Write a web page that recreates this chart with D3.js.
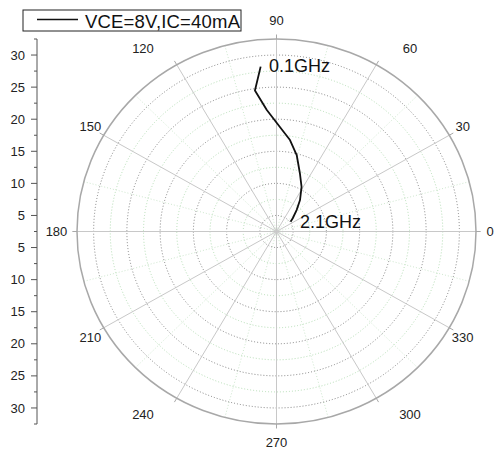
<!DOCTYPE html>
<html><head><meta charset="utf-8">
<script src="https://cdn.jsdelivr.net/npm/d3@7"></script>
<style>body{margin:0;background:#fff}svg{display:block}text{font-family:"Liberation Sans",Arial,sans-serif}</style>
</head><body>
<svg id="c" width="494" height="450"></svg>
<script>
// Data: radial magnitude and angle (degrees) from 0.1GHz to 2.1GHz
const magnitude = [28.3, 24.7, 21.5, 18.8, 16.9, 14.8, 12.2, 10.4, 8.55, 7.0, 5.7, 5.1];
const angleDeg  = [95.3, 98.4, 94.4, 88.2, 81.9, 75.7, 68.7, 61.5, 54.2, 47.8, 40.2, 35.6];
const radialTicks = [5, 10, 15, 20, 25, 30];
const angleTicks = [0, 30, 60, 90, 120, 150, 180, 210, 240, 270, 300, 330];
const seriesName = "VCE=8V,IC=40mA";
const startLabel = "0.1GHz", endLabel = "2.1GHz";

const svg = d3.select("#c");
const cx = 276.5, cy = 231.5, RX = 199.5, RY = 192.5;
const rDomain = [2.5, 32.5];
const rx = d3.scaleLinear().domain(rDomain).range([0, RX]);
const ry = d3.scaleLinear().domain(rDomain).range([0, RY]);
const rad = a => a * Math.PI / 180;
const px = (v, a) => cx + rx(v) * Math.cos(rad(a));
const py = (v, a) => cy - ry(v) * Math.sin(rad(a));

const g = svg.append("g");
// minor circles (green dotted)
const minorR = d3.range(7.5, 32.5, 5);
g.selectAll(".minc").data(minorR).join("ellipse")
  .attr("cx", cx).attr("cy", cy).attr("rx", d => rx(d)).attr("ry", d => ry(d))
  .attr("fill", "none").attr("stroke", "#b5deb5").attr("stroke-width", 1).attr("stroke-dasharray", "1,2");
// minor spokes
g.selectAll(".mins").data(d3.range(15, 360, 30)).join("line")
  .attr("x1", cx).attr("y1", cy).attr("x2", d => px(32.5, d)).attr("y2", d => py(32.5, d))
  .attr("stroke", "#cfe8cf").attr("stroke-width", 1).attr("stroke-dasharray", "1,2");
// major circles (dark dotted)
g.selectAll(".majc").data(radialTicks).join("ellipse")
  .attr("cx", cx).attr("cy", cy).attr("rx", d => rx(d)).attr("ry", d => ry(d))
  .attr("fill", "none").attr("stroke", "#666").attr("stroke-width", 0.8).attr("stroke-dasharray", "1,2");
// major spokes
g.selectAll(".majs").data(angleTicks).join("line")
  .attr("x1", cx).attr("y1", cy).attr("x2", d => px(32.5, d)).attr("y2", d => py(32.5, d))
  .attr("stroke", "#c8c8c8").attr("stroke-width", 1);
// outer circle
g.append("ellipse").attr("cx", cx).attr("cy", cy).attr("rx", RX).attr("ry", RY)
  .attr("fill", "none").attr("stroke", "#a8a8a8").attr("stroke-width", 1.5);
// outer ticks
g.selectAll(".ot").data(angleTicks).join("line")
  .attr("x1", d => px(32.5, d)).attr("y1", d => py(32.5, d))
  .attr("x2", d => px(33.2, d)).attr("y2", d => py(33.2, d))
  .attr("stroke", "#a8a8a8").attr("stroke-width", 1);

// angle labels
function labelPos(a) {
  const c = Math.cos(rad(a)), s = Math.sin(rad(a));
  let x = cx + 215 * c, y = cy - 211 * s;
  if (Math.abs(Math.abs(s) - 0.866) < 0.01) x += Math.sign(c) * 26;
  if (a === 0) x = cx + 213.5;
  if (a === 180) x = cx - 220;
  return [x, y];
}
svg.selectAll(".al").data(angleTicks).join("text")
  .attr("x", d => labelPos(d)[0]).attr("y", d => labelPos(d)[1])
  .attr("dy", "0.35em").attr("text-anchor", "middle")
  .attr("font-size", 13).attr("fill", "#222").text(d => d);

// left radial axis (both halves)
const ax = 37;
const ya = d3.scaleLinear().domain(rDomain).range([cy, cy - RY]);
const yb = d3.scaleLinear().domain(rDomain).range([cy, cy + RY]);
const axg = svg.append("g");
axg.append("line").attr("x1", ax).attr("x2", ax).attr("y1", cy - RY).attr("y2", cy + RY)
  .attr("stroke", "#555").attr("stroke-width", 1);
const minorT = d3.range(2.5, 33, 5);
[ya, yb].forEach(sc => {
  axg.selectAll(null).data(radialTicks).join("line")
    .attr("x1", ax - 6).attr("x2", ax).attr("y1", d => sc(d)).attr("y2", d => sc(d))
    .attr("stroke", "#555");
  axg.selectAll(null).data(minorT).join("line")
    .attr("x1", ax - 3).attr("x2", ax).attr("y1", d => sc(d)).attr("y2", d => sc(d))
    .attr("stroke", "#555");
  axg.selectAll(null).data(radialTicks).join("text")
    .attr("x", ax - 12).attr("y", d => sc(d)).attr("dy", "0.35em")
    .attr("text-anchor", "end").attr("font-size", 13).attr("fill", "#222").text(d => d);
});

// data curve
const pts = magnitude.map((m, i) => [px(m, angleDeg[i]), py(m, angleDeg[i])]);
svg.append("path").datum(pts)
  .attr("d", d3.line())
  .attr("fill", "none").attr("stroke", "#111").attr("stroke-width", 1.8)
  .attr("stroke-linejoin", "round");

svg.append("text").attr("x", 269).attr("y", 72).attr("font-size", 18).attr("fill", "#111").text(startLabel);
svg.append("text").attr("x", 300).attr("y", 228).attr("font-size", 18).attr("fill", "#111").text(endLabel);

// legend
const lg = svg.append("g");
lg.append("rect").attr("x", 23).attr("y", 10).attr("width", 218).attr("height", 21)
  .attr("fill", "#fff").attr("stroke", "#222").attr("stroke-width", 1);
lg.append("line").attr("x1", 37).attr("x2", 78).attr("y1", 19.5).attr("y2", 19.5)
  .attr("stroke", "#111").attr("stroke-width", 1.5);
lg.append("text").attr("x", 85).attr("y", 27.5).attr("font-size", 18.5).attr("fill", "#111")
  .attr("textLength", 155).text(seriesName);
</script>
</body></html>
